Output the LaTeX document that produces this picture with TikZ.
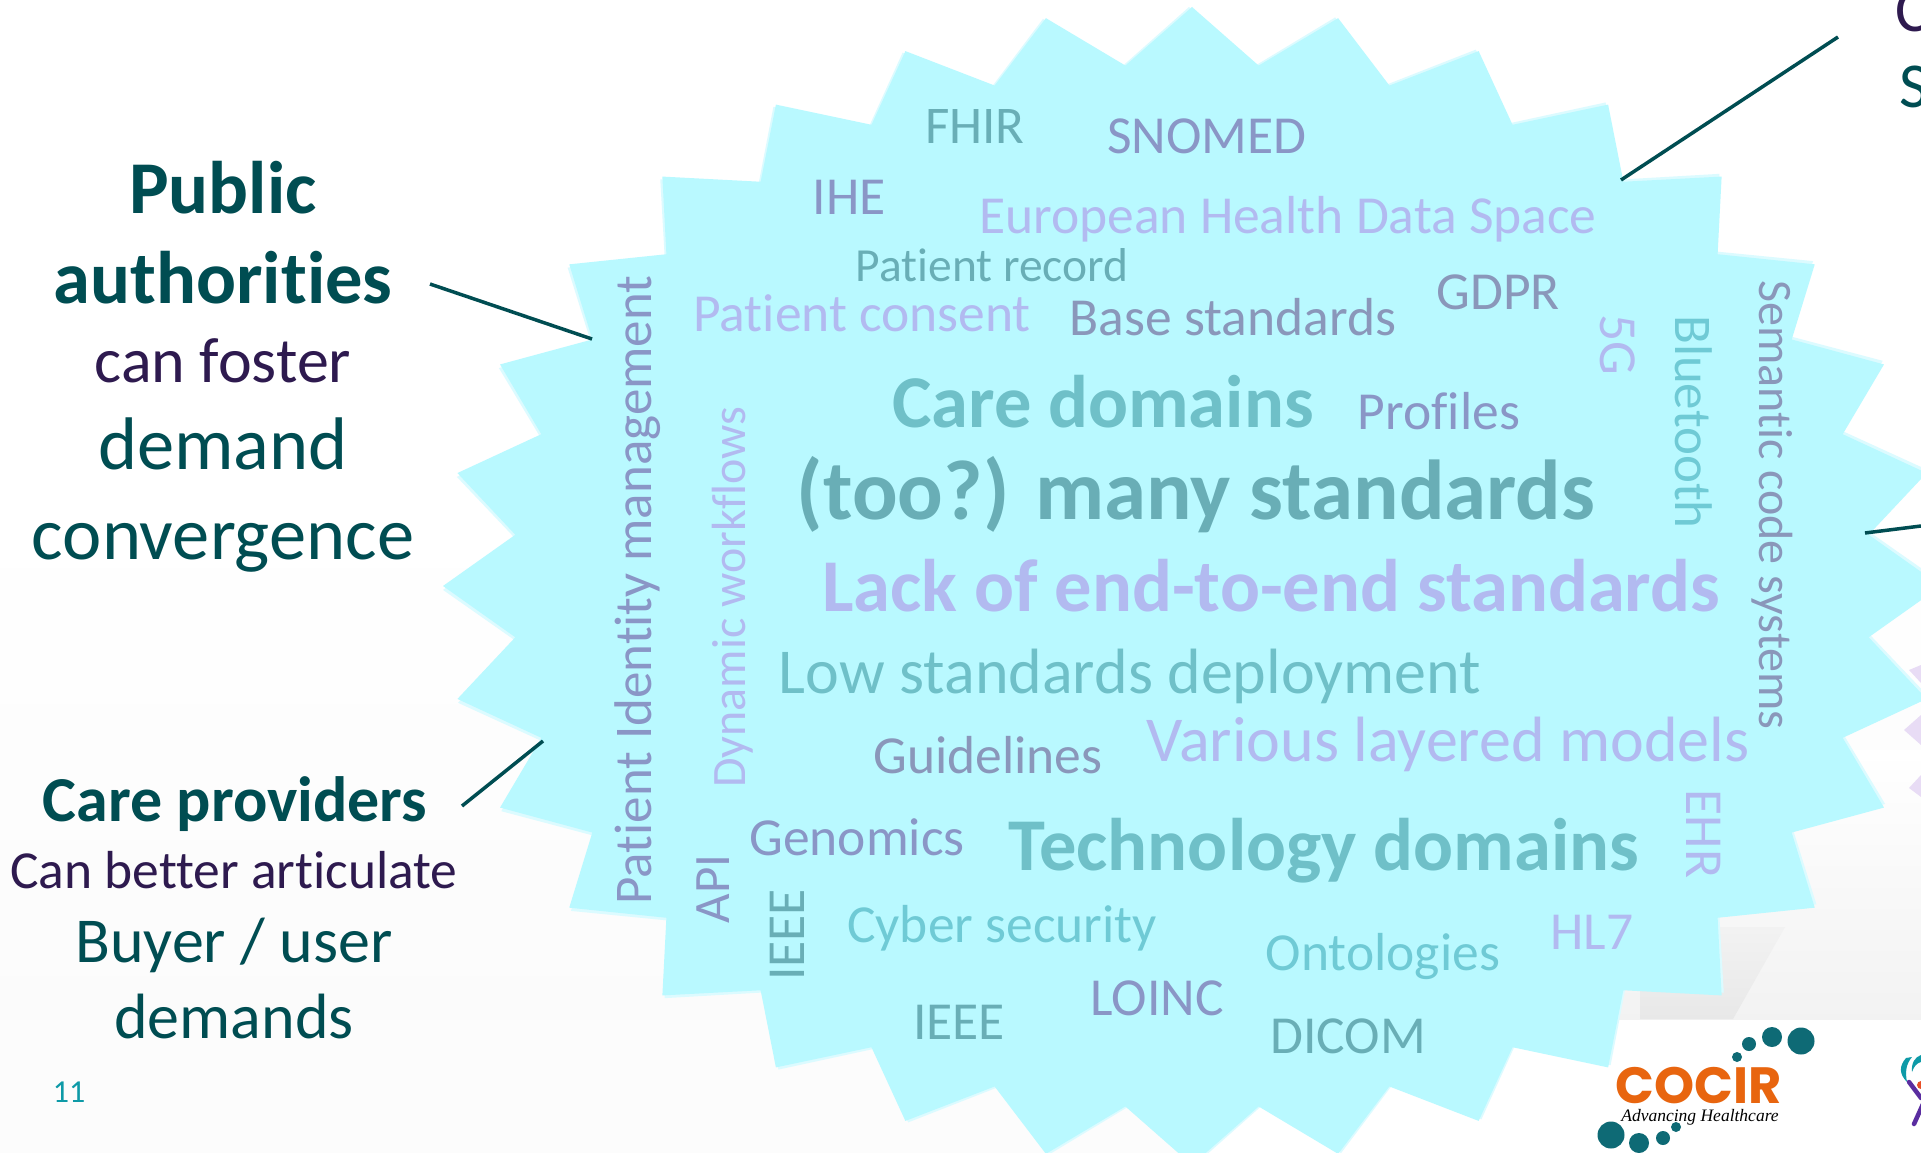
\documentclass[tikz,border=0pt]{standalone}
\usepackage{fontspec}
\setmainfont{Carlito}[Ligatures=NoCommon]
\newfontfamily\logofont{Poppins}
\newfontfamily\scriptlogo{Liberation Serif}
\newcommand{\fpx}[1]{\fontsize{#1}{#1}\selectfont}
\newcommand{\fpb}[1]{\fontsize{#1}{#1}\selectfont\bfseries}
\newcommand{\starpath}{(1192,7) \foreach \k in {1,...,63} { -- ({1192+(isodd(\k)?680:749)*sin(\k*5.625)},{586-(isodd(\k)?523:579)*cos(\k*5.625)}) } -- cycle}
\definecolor{starc}{HTML}{B9F9FF}
\definecolor{starp}{HTML}{DCFBFF}
\definecolor{dteal}{HTML}{004D52}
\definecolor{dpurp}{HTML}{2E1A4F}
\definecolor{wlila}{HTML}{B2BAF0}
\definecolor{wslat}{HTML}{8A96C6}
\definecolor{wgray}{HTML}{8A97BA}
\definecolor{wteal}{HTML}{69AEB6}
\definecolor{wcyan}{HTML}{6FC0C8}
\definecolor{wsky}{HTML}{6FCAD5}
\definecolor{dotc}{HTML}{0E6A75}
\definecolor{pagec}{HTML}{0E9AA7}
\definecolor{cocirc}{HTML}{E8650F}
\definecolor{lilac}{HTML}{E8DCF5}
\definecolor{logored}{HTML}{E85028}
\definecolor{logopur}{HTML}{5A2DA0}
\tikzset{
  word/.style={inner sep=0pt,anchor=center,text height=0.64em,text depth=0pt},
  conn/.style={draw=dteal,line width=3.5pt},
  dot/.style={fill=dotc,draw=none}
}
\begin{document}
\begin{tikzpicture}[x=1pt,y=-1pt]
\useasboundingbox (0,0) rectangle (1921,1153);
\fill[white] (0,0) rectangle (1921,1153);
% background
\shade[top color=white,bottom color=black!1.5] (0,500) rectangle (1921,1020);
\fill[black!1.2] (0,1020) rectangle (1200,1153);
\shade[top color=white,bottom color=black!5] (1500,750) rectangle (1921,1019);
\shade[top color=black!5,bottom color=black!9] (1640,927) -- (1785,927) -- (1733,1019) -- (1640,1019) -- cycle;
\fill[white] (1200,1020) rectangle (1921,1153);
% lilac star behind
\fill[lilac] (1921,665) -- (1909,670) -- (1921,683) -- cycle;
\fill[lilac] (1921,715) -- (1904,730) -- (1921,745) -- cycle;
\fill[lilac] (1921,775) -- (1909,788) -- (1921,797) -- cycle;
% star
\begin{scope}[rotate around={0.3:(1192,586)}]
\fill[starp] \starpath;
\end{scope}
\fill[starc] \starpath;
% words
\node[word,text=wteal,node font=\fpx{53}] (fhir) at (975,127) {FHIR};
\node[word,text=wslat,node font=\fpx{53.5}] (snomed) at (1207,136) {SNOMED};
\node[word,text=wslat,node font=\fpx{53.5}] (ihe) at (849,197) {IHE};
\node[word,text=wlila,node font=\fpx{53.5}] (ehds) at (1288,216) {European Health Data Space};
\node[word,text=wteal,node font=\fpx{47.5}] (record) at (992,266) {Patient record};
\node[word,text=wlila,node font=\fpx{53.5}] (consent) at (862,314) {Patient consent};
\node[word,text=wgray,node font=\fpx{53.5}] (base) at (1233,318) {Base standards};
\node[word,text=wgray,node font=\fpx{53.5}] (gdpr) at (1498,292) {GDPR};
\node[word,text=wcyan,node font=\fpb{74.5}] (care) at (1103,404) {Care domains};
\node[word,text=wslat,node font=\fpx{53.5}] (profiles) at (1439,412) {Profiles};
\node[word,text=wteal,node font=\fpb{85}] (many) at (1196,492) {(too?) many standards};
\node[word,text=wlila,node font=\fpb{74.5}] (lack) at (1271,588) {Lack of end-to-end standards};
\node[word,text=wcyan,node font=\fpx{64}] (low) at (1130,673) {Low standards deployment};
\node[word,text=wgray,node font=\fpx{53.5}] (guide) at (988,756) {Guidelines};
\node[word,text=wlila,node font=\fpx{64}] (various) at (1448,741) {Various layered models};
\node[word,text=wslat,node font=\fpx{53.5}] (genomics) at (857,838) {Genomics};
\node[word,text=wcyan,node font=\fpb{74.5}] (tech) at (1324,847) {Technology domains};
\node[word,text=wsky,node font=\fpx{53.5}] (cyber) at (1002,925) {Cyber security};
\node[word,text=wsky,node font=\fpx{53.5}] (onto) at (1383,953) {Ontologies};
\node[word,text=wlila,node font=\fpx{53.5}] (hl) at (1592,932) {HL7};
\node[word,text=wslat,node font=\fpx{53.5}] (loinc) at (1157,998) {LOINC};
\node[word,text=wteal,node font=\fpx{53.5}] (dicom) at (1348,1036) {DICOM};
\node[word,text=wteal,node font=\fpx{53.5}] (ieeeh) at (959,1022) {IEEE};
\node[word,text=wslat,node font=\fpx{53},rotate=90] (pim) at (635,590) {Patient Identity management};
\node[word,text=wlila,node font=\fpx{48},rotate=90] (dyn) at (730,597) {Dynamic workflows};
\node[word,text=wslat,node font=\fpx{51},rotate=90] (api) at (713,889) {API};
\node[word,text=wteal,node font=\fpx{53.5},rotate=90] (ieeev) at (787,935) {IEEE};
\node[word,text=wlila,node font=\fpx{53.5},rotate=-90] (fiveg) at (1618,345) {5G};
\node[word,text=wsky,node font=\fpx{53},rotate=-90] (blue) at (1692,422) {Bluetooth};
\node[word,text=wgray,node font=\fpx{48},rotate=-90] (sem) at (1775,505) {Semantic code systems};
\node[word,text=wlila,node font=\fpx{53.5},rotate=-90] (ehr) at (1704,834) {EHR};
% left text
\node[word,text=dteal,node font=\fpb{74.5}] (pub) at (223,190) {Public};
\node[word,text=dteal,node font=\fpb{74.5}] (auth) at (223,280) {authorities};
\node[word,text=dpurp,node font=\fpx{64}] (foster) at (223,362) {can foster};
\node[word,text=dteal,node font=\fpx{74.5}] (demand) at (223,446) {demand};
\node[word,text=dteal,node font=\fpx{74.5}] (conv) at (223,536) {convergence};
\node[word,text=dteal,node font=\fpb{64}] (prov) at (235,801) {Care providers};
\node[word,text=dpurp,node font=\fpx{53.5}] (artic) at (234,871) {Can better articulate};
\node[word,text=dteal,node font=\fpx{64}] (buyer) at (234,942) {Buyer / user};
\node[word,text=dteal,node font=\fpx{64}] (dems) at (234,1018) {demands};
\node[word,text=pagec,node font=\fpx{32}] (page) at (69,1092) {11};
% right cut-off text
\node[inner sep=0pt,anchor=base west,text=dpurp,font=\fpx{64}] (cc) at (1895,32) {C};
\node[inner sep=0pt,anchor=base west,text=dteal,font=\fpx{64}] (ss) at (1899,108) {S};
% connectors
\coordinate (a1) at (430,284); \coordinate (a2) at (592,339);
\coordinate (b1) at (462,806); \coordinate (b2) at (543,741);
\coordinate (c1) at (1838,37); \coordinate (c2) at (1621,180);
\coordinate (d1) at (1921,526); \coordinate (d2) at (1865,533);
\draw[conn] (a1) -- (a2);
\draw[conn] (b1) -- (b2);
\draw[conn] (c1) -- (c2);
\draw[conn] (d1) -- (d2);
% logo
\fill[dot] (1801,1041) circle (13.5);
\fill[dot] (1772,1037) circle (10);
\fill[dot] (1749,1044) circle (7);
\fill[dot] (1737,1057) circle (5);
\fill[dot] (1611,1135) circle (13.5);
\fill[dot] (1639,1143) circle (10);
\fill[dot] (1663,1138) circle (7);
\fill[dot] (1676,1127) circle (5);
\node[inner sep=0pt,anchor=base,text=cocirc,font=\logofont\bfseries\fpx{51}] (cocir) at (1699,1103) {COCIR};
\node[inner sep=0pt,anchor=base,text=black,font=\scriptlogo\itshape\fpx{17.5}] (adv) at (1700,1121) {Advancing Healthcare};
% second logo fragment
\fill[pagec] (1906,1058) .. controls (1899,1066) and (1899,1074) .. (1907,1082) .. controls (1905,1072) and (1906,1064) .. (1912,1057) -- cycle;
\fill[pagec] (1921,1055) .. controls (1915,1057) and (1911,1063) .. (1912,1072) .. controls (1914,1066) and (1917,1063) .. (1921,1062) -- cycle;
\fill[logored] (1921,1085) circle (4);
\draw[logopur,line width=4.5pt,line cap=round] (1909,1082) -- (1921,1098);
\draw[logopur,line width=4.5pt,line cap=round] (1914,1124) -- (1923,1104);
\end{tikzpicture}
\end{document}
